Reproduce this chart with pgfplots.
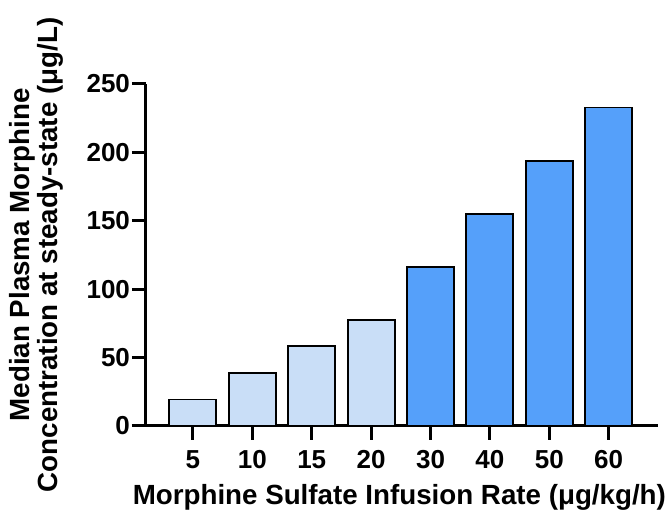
\documentclass[border=0pt]{standalone}
\usepackage{fontspec}
\setmainfont{Liberation Sans}
\usepackage{pgfplots}
\pgfplotsset{compat=1.18}
\usetikzlibrary{calc}
\definecolor{lightbar}{HTML}{C9DEF7}
\definecolor{darkbar}{HTML}{55A0FA}
\begin{document}
\begin{tikzpicture}
\begin{axis}[
  name=ax,
  scale only axis,
  width=384pt, height=256.5pt,
  xmin=-0.79, xmax=7.83,
  ymin=0, ymax=250,
  ytick={0,50,100,150,200,250},
  xtick={0,1,2,3,4,5,6,7},
  xticklabels={5,10,15,20,30,40,50,60},
  axis x line*=bottom, axis y line*=left,
  axis line style={line width=2.25pt},
  x axis line style={shorten <=-10.5pt},
  tick style={line width=2.25pt, black},
  major tick length=10.5pt,
  tick align=outside,
  /pgf/number format/assume math mode=true,
  tick label style={font=\fontsize{19.5}{22}\selectfont\bfseries},
  yticklabel style={xshift=2pt},
  xticklabel style={yshift=-4.5pt},
  xlabel={Morphine Sulfate Infusion Rate (μg/kg/h)},
  ylabel={Median Plasma Morphine\\Concentration at steady-state (μg/L)},
  label style={font=\fontsize{20.8}{21}\selectfont\bfseries},
  xlabel style={at={(axis description cs:0.5,0)}, anchor=base, yshift=-59pt, xshift=-2pt},
  ylabel style={align=center, at={(axis description cs:0,0.5)}, anchor=center, yshift=82.5pt},
  ybar, bar width=35.25pt, bar shift=0pt,
  every axis plot/.append style={draw=black, line width=1.4pt},
]
\addplot[fill=lightbar] coordinates {(0,19.4) (1,38.8) (2,58.2) (3,77.6)};
\addplot[fill=darkbar] coordinates {(4,116.4) (5,155.2) (6,194) (7,232.8)};
\end{axis}
\pgfresetboundingbox
\path[use as bounding box] ($(ax.south west)+(-109.5pt,-66.75pt)$) rectangle ($(ax.north east)+(9.75pt,63pt)$);
\end{tikzpicture}
\end{document}
